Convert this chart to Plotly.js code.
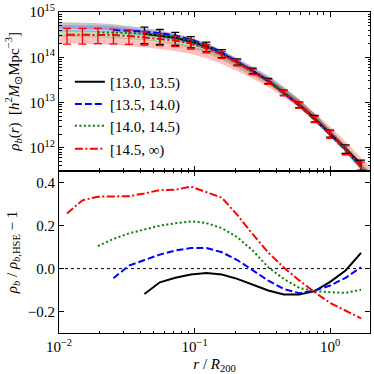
<!DOCTYPE html>
<html>
<head>
<meta charset="utf-8">
<script src="https://cdn.plot.ly/plotly-3.0.1.min.js"></script>
<style>
  html, body { margin: 0; padding: 0; background: #fff; }
  #myPlot { width: 374px; height: 374px; }
</style>
</head>
<body>
<div id="myPlot"></div>
<script>
// radial bins, r / R200
const rGrid = [0.01146, 0.01489, 0.01936, 0.02521, 0.03281, 0.04266, 0.05546, 0.07211, 0.09397, 0.1222,
               0.1589, 0.2065, 0.2685, 0.3499, 0.4550, 0.5916, 0.7691, 1.000, 1.300, 1.690];
const rBand = [0.01, ...rGrid, 2.0];

const names = ["[13.0, 13.5)", "[13.5, 14.0)", "[14.0, 14.5)", "[14.5, ∞)"];

// log10 rho_b, measured profiles
const logBlack = [null, null, null, null, null, 14.52, 14.48, 14.43, 14.35, 14.24, 14.09, 13.90, 13.70, 13.48, 13.22, 12.95, 12.65, 12.32, 11.98, 11.63];
const logBlue = [null, null, null, 14.60, 14.59, 14.57, 14.53, 14.48, 14.39, 14.27, 14.11, 13.91, 13.70, 13.47, 13.21, 12.93, 12.62, 12.29, 11.95, 11.58];
const logGreen = [null, null, 14.55, 14.55, 14.54, 14.52, 14.49, 14.44, 14.36, 14.25, 14.09, 13.90, 13.69, 13.47, 13.21, 12.93, 12.62, 12.29, 11.95, 11.58];
const logRed = [14.50, 14.50, 14.50, 14.49, 14.47, 14.44, 14.41, 14.37, 14.30, 14.20, 14.06, 13.88, 13.68, 13.46, 13.21, 12.94, 12.63, 12.30, 11.96, 11.58];

// relative errors
const errBlack = [null, null, null, null, null, 0.40, 0.36, 0.32, 0.28, 0.24, 0.20, 0.16, 0.14, 0.13, 0.13, 0.14, 0.16, 0.18, 0.21, 0.25];
const errRed = [0.38, 0.38, 0.37, 0.36, 0.35, 0.33, 0.30, 0.27, 0.24, 0.21, 0.18, 0.15, 0.14, 0.13, 0.13, 0.14, 0.16, 0.19, 0.23, 0.27];

// HSE model bands, log10 centre on rBand
const bandBlack = [14.71, 14.70, 14.69, 14.68, 14.66, 14.62, 14.58, 14.52, 14.45, 14.36, 14.25, 14.09, 13.91, 13.72, 13.52, 13.28, 13.01, 12.69, 12.34, 11.97, 11.57, 11.33];
const bandBlue = [14.64, 14.64, 14.635, 14.63, 14.62, 14.58, 14.55, 14.50, 14.445, 14.35, 14.23, 14.08, 13.89, 13.70, 13.50, 13.25, 12.98, 12.67, 12.33, 11.97, 11.58, 11.34];
const bandGreen = [14.53, 14.53, 14.52, 14.51, 14.49, 14.47, 14.45, 14.41, 14.36, 14.27, 14.17, 14.015, 13.84, 13.655, 13.47, 13.23, 12.97, 12.67, 12.34, 12.00, 11.625, 11.39];
const bandRed = [14.41, 14.40, 14.38, 14.37, 14.36, 14.34, 14.31, 14.27, 14.23, 14.16, 14.07, 13.94, 13.78, 13.62, 13.43, 13.21, 12.965, 12.68, 12.38, 12.05, 11.69, 11.46];
const bandHalf = [0.07, 0.07, 0.07, 0.09]; // dex

// rho_b / rho_b,HSE - 1
const ratioBlack = [null, null, null, null, null, -0.118, -0.064, -0.043, -0.028, -0.020, -0.028, -0.048, -0.076, -0.102, -0.121, -0.121, -0.105, -0.062, -0.009, 0.073];
const ratioBlue = [null, null, null, -0.045, 0.014, 0.040, 0.065, 0.084, 0.096, 0.096, 0.076, 0.040, -0.009, -0.056, -0.095, -0.115, -0.102, -0.079, -0.043, 0.006];
const ratioGreen = [null, null, 0.105, 0.138, 0.164, 0.183, 0.200, 0.211, 0.220, 0.212, 0.189, 0.146, 0.084, 0.006, -0.048, -0.090, -0.105, -0.110, -0.113, -0.099];
const ratioRed = [0.257, 0.318, 0.335, 0.335, 0.337, 0.350, 0.366, 0.367, 0.382, 0.356, 0.330, 0.250, 0.160, 0.075, 0.005, -0.055, -0.110, -0.160, -0.195, -0.232];

const colors = ["#000000", "#0000ff", "#008000", "#ff0000"];
const fills = ["rgba(110,110,110,0.4)", "rgba(80,80,255,0.32)", "rgba(0,140,0,0.28)", "rgba(255,60,60,0.32)"];
const dashes = ["solid", "7px,3px", "2px,2.5px", "8px,2.5px,2px,2.5px"];
const legendIds = ["legend", "legend2", "legend3", "legend4"];
const legendY = [0.782, 0.713, 0.645, 0.573];

const lin = a => a.map(v => v === null ? null : Math.pow(10, v));

const data = [];

// bands
[bandBlack, bandBlue, bandGreen, bandRed].forEach((b, k) => {
    data.push({
        x: rBand, y: lin(b.map(v => v - bandHalf[k])), xaxis: "x", yaxis: "y",
        mode: "lines", line: { width: 0, color: fills[k] }, showlegend: false, hoverinfo: "skip"
    });
    data.push({
        x: rBand, y: lin(b.map(v => v + bandHalf[k])), xaxis: "x", yaxis: "y",
        mode: "lines", line: { width: 0, color: fills[k] }, fill: "tonexty", fillcolor: fills[k],
        showlegend: false, hoverinfo: "skip"
    });
});

// profiles (top) and ratios (bottom)
const profiles = [logBlack, logBlue, logGreen, logRed];
const ratios = [ratioBlack, ratioBlue, ratioGreen, ratioRed];
profiles.forEach((p, k) => {
    data.push({
        x: rGrid, y: lin(p), xaxis: "x", yaxis: "y", name: names[k],
        mode: "lines", line: { color: colors[k], width: 2, dash: dashes[k] },
        legend: legendIds[k]
    });
});
ratios.forEach((p, k) => {
    data.push({
        x: rGrid, y: p, xaxis: "x2", yaxis: "y2", showlegend: false,
        mode: "lines", line: { color: colors[k], width: 2, dash: dashes[k] }
    });
});

// error bars
[[logBlack, errBlack, colors[0]], [logRed, errRed, colors[3]]].forEach(([p, e, c]) => {
    const y = lin(p);
    data.push({
        x: rGrid, y: y, xaxis: "x", yaxis: "y", mode: "markers", showlegend: false,
        marker: { size: 2, color: c },
        error_y: { type: "data", array: y.map((v, i) => v === null ? null : v * e[i]), color: c, thickness: 1.3, width: 4 }
    });
});

// tick helpers
const minorX = [];
for (let d = -2; d <= 0; d++) for (let m = 2; m <= 9; m++) minorX.push(m * Math.pow(10, d));
const minorY = [];
for (let d = 11; d <= 14; d++) for (let m = 2; m <= 9; m++) minorY.push(m * Math.pow(10, d));

const font = { family: "Liberation Serif, Times New Roman, serif", size: 15, color: "#000" };
const axisBase = {
    showline: true, linecolor: "#000", linewidth: 1, mirror: "allticks",
    ticks: "inside", ticklen: 5, tickwidth: 1, tickcolor: "#000",
    showgrid: false, zeroline: false, tickfont: font
};
const xBase = Object.assign({}, axisBase, {
    type: "log", range: [-2, 0.294],
    tickmode: "array", tickvals: [0.01, 0.1, 1],
    ticktext: ["10<sup>−2</sup>", "10<sup>−1</sup>", "10<sup>0</sup>"],
    minor: { tickmode: "array", tickvals: minorX, ticks: "inside", ticklen: 2.5, tickcolor: "#000" }
});

const layout = {
    width: 374, height: 374,
    margin: { l: 59, r: 4, t: 12, b: 41 },
    paper_bgcolor: "#fff", plot_bgcolor: "#fff",
    font: font,
    showlegend: true,
    xaxis: Object.assign({}, xBase, { anchor: "y", matches: "x2", showticklabels: false }),
    xaxis2: Object.assign({}, xBase, {
        anchor: "y2",
        title: { text: "<i>r</i> / <i>R</i><sub>200</sub>", font: font, standoff: 4 }
    }),
    yaxis: Object.assign({}, axisBase, {
        type: "log", range: [11.49, 15], domain: [0.505, 1], anchor: "x",
        tickmode: "array", tickvals: [1e12, 1e13, 1e14, 1e15],
        ticktext: ["10<sup>12</sup>", "10<sup>13</sup>", "10<sup>14</sup>", "10<sup>15</sup>"],
        minor: { tickmode: "array", tickvals: minorY, ticks: "inside", ticklen: 2.5, tickcolor: "#000" },
        title: { text: "<i>ρ<sub>b</sub></i>(<i>r</i>)  [<i>h</i><sup>2</sup><i>M</i><sub>⊙</sub>Mpc<sup>−3</sup>]", font: font, standoff: 6 }
    }),
    yaxis2: Object.assign({}, axisBase, {
        range: [-0.3, 0.455], domain: [0, 0.505], anchor: "x2",
        tickmode: "array", tickvals: [-0.2, 0, 0.2, 0.4],
        ticktext: ["−0.2", "0.0", "0.2", "0.4"],
        title: { text: "<i>ρ<sub>b</sub></i> / <i>ρ</i><sub><i>b</i>,HSE</sub> − 1", font: font, standoff: 6 }
    }),
    shapes: [{
        type: "line", xref: "x2 domain", x0: 0, x1: 1, yref: "y2", y0: 0, y1: 0,
        line: { color: "#000", width: 1, dash: "dot" }, layer: "below"
    }]
};

// one legend box per entry so each row sits where the reference has it
legendIds.forEach((id, k) => {
    layout[id] = {
        x: 0.035, y: legendY[k], xanchor: "left", yanchor: "middle",
        bgcolor: "rgba(0,0,0,0)", font: font, itemwidth: 30
    };
});

Plotly.newPlot("myPlot", data, layout, { staticPlot: true, displayModeBar: false });
</script>
</body>
</html>
